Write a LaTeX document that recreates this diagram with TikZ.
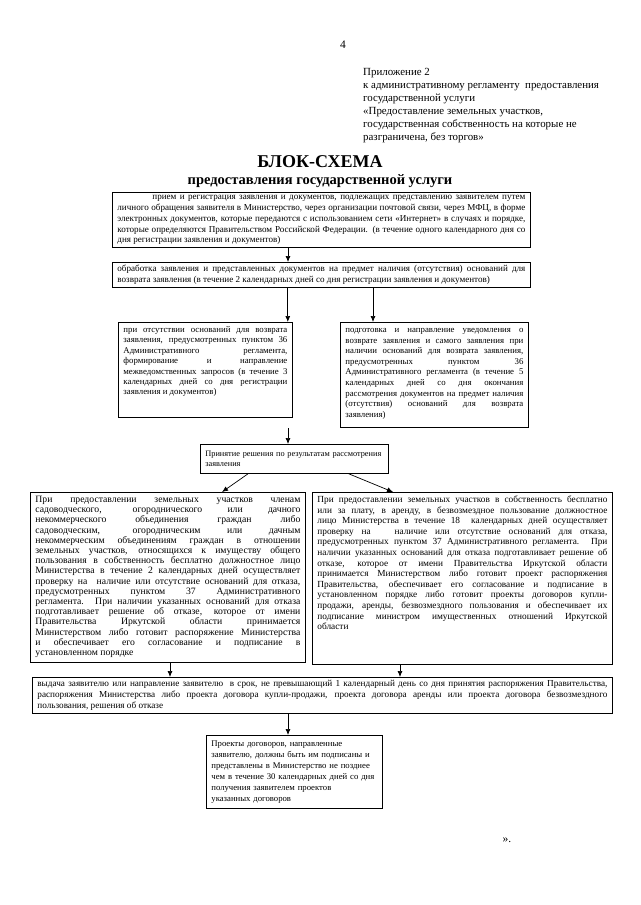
\documentclass[tikz,border=0pt]{standalone}
\usepackage{fontspec}
\setmainfont{Liberation Serif}
\usetikzlibrary{positioning,arrows.meta}
\hbadness=10000
\vbadness=10000

\begin{document}
\begin{tikzpicture}[x=1pt,y=-1pt,
  box/.style={draw,line width=0.8pt,anchor=north west,align=justify,inner xsep=5pt,inner ysep=3pt},
  fs/.style 2 args={font=\fontsize{#1}{#2}\selectfont},
  hang/.style={text height=7pt,text depth=#1},
  arr/.style={line width=0.7pt,-{Latex[length=6pt,width=5pt]}}]
\useasboundingbox (0,0) rectangle (640,905);
\node[fs={11.5}{13}] (nomer) at (343,45) {4};
\node[fs={10.9}{13},align=left,anchor=north west,inner sep=0pt] (prilozh) at (363,68)
  {Приложение 2\\к административному регламенту\ \ предоставления\\государственной услуги\\
   «Предоставление земельных участков,\\государственная собственность на которые не\\разграничена, без торгов»};
\node[font=\bfseries\fontsize{18}{19}\selectfont] (zagl) at (320,162) {БЛОК-СХЕМА};
\node[font=\bfseries\fontsize{14.5}{16}\selectfont,below=-1pt of zagl] (podzagl) {предоставления государственной услуги};

\node[box,fs={9.1}{10.8},text width=408pt] (priem) at (112,192)
  {\hspace*{35pt}прием и регистрация заявления и документов, подлежащих представлению заявителем путем\linebreak
   личного обращения заявителя в Министерство, через организации почтовой связи, через МФЦ, в форме\linebreak
   электронных документов, которые передаются с использованием сети «Интернет» в случаях и порядке,\linebreak
   которые определяются Правительством Российской Федерации. (в течение одного календарного дня со\linebreak
   дня регистрации заявления и документов)};
\node[box,fs={9.1}{10.8},text width=408pt] (obrab) at (112,262)
  {обработка заявления и представленных документов на предмет наличия (отсутствия) оснований для\linebreak
   возврата заявления (в течение 2 календарных дней со дня регистрации заявления и документов)};
\node[box,fs={8.8}{10.4},text width=164pt,hang=82pt] (otsut) at (118,322)
  {при отсутствии оснований для возврата\linebreak
   заявления, предусмотренных пунктом 36\linebreak
   Административного регламента,\linebreak
   формирование и направление\linebreak
   межведомственных запросов (в течение 3\linebreak
   календарных дней со дня регистрации\linebreak
   заявления и документов)};
\node[box,fs={8.8}{10.6},text width=178pt,hang=92pt] (vozvr) at (340,322)
  {подготовка и направление уведомления о\linebreak
   возврате заявления и самого заявления при\linebreak
   наличии оснований для возврата заявления,\linebreak
   предусмотренных пунктом 36\linebreak
   Административного регламента (в течение 5\linebreak
   календарных дней со дня окончания\linebreak
   рассмотрения документов на предмет наличия\linebreak
   (отсутствия) оснований для возврата\linebreak
   заявления)};
\node[box,fs={8.3}{10.5},align=left,text width=178pt,minimum height=29pt] (reshen) at (200,444)
  {Принятие решения по результатам рассмотрения\\заявления};
\node[box,fs={9.7}{10.2},text width=265pt,hang=157pt] (chleny) at (30,492)
  {При предоставлении земельных участков членам\linebreak
   садоводческого, огороднического или дачного\linebreak
   некоммерческого объединения граждан либо\linebreak
   садоводческим, огородническим или дачным\linebreak
   некоммерческим объединениям граждан в отношении\linebreak
   земельных участков, относящихся к имуществу общего\linebreak
   пользования в собственность бесплатно должностное лицо\linebreak
   Министерства в течение 2 календарных дней осуществляет\linebreak
   проверку на\ \ наличие или отсутствие оснований для отказа,\linebreak
   предусмотренных пунктом 37 Административного\linebreak
   регламента. При наличии указанных оснований для отказа\linebreak
   подготавливает решение об отказе, которое от имени\linebreak
   Правительства Иркутской области принимается\linebreak
   Министерством либо готовит распоряжение Министерства\linebreak
   и обеспечивает его согласование и подписание в\linebreak
   установленном порядке};
\node[box,fs={9.3}{10.6},text width=290pt,hang=159pt] (sobstv) at (312,492)
  {При предоставлении земельных участков в собственность бесплатно\linebreak
   или за плату, в аренду, в безвозмездное пользование должностное\linebreak
   лицо Министерства в течение 18\ \ календарных дней осуществляет\linebreak
   проверку на\ \ \ наличие или отсутствие оснований для отказа,\linebreak
   предусмотренных пунктом 37 Административного регламента. При\linebreak
   наличии указанных оснований для отказа подготавливает решение об\linebreak
   отказе, которое от имени Правительства Иркутской области\linebreak
   принимается Министерством либо готовит проект распоряжения\linebreak
   Правительства, обеспечивает его согласование и подписание в\linebreak
   установленном порядке либо готовит проекты договоров купли-\linebreak
   продажи, аренды, безвозмездного пользования и обеспечивает их\linebreak
   подписание министром имущественных отношений Иркутской\linebreak
   области};
\node[box,fs={9.2}{11},text width=570pt] (vydacha) at (32,677)
  {выдача заявителю или направление заявителю\ \ в срок, не превышающий 1 календарный день со дня принятия распоряжения Правительства,\linebreak
   распоряжения Министерства либо проекта договора купли-продажи, проекта договора аренды или проекта договора безвозмездного\linebreak
   пользования, решения об отказе};
\node[box,fs={8.7}{11},align=left,text width=166pt,minimum height=73pt] (proekty) at (206,735)
  {Проекты договоров, направленные\\заявителю, должны быть им подписаны и\\представлены в Министерство не позднее\\
   чем в течение 30 календарных дней со дня\\получения заявителем проектов\\указанных договоров};
\node[fs={11.5}{13}] (konec) at (507,840) {».};

\coordinate (os) at (288,0);
\coordinate (k1) at ([xshift=-5pt]otsut.north east);
\coordinate (k2) at ([xshift=33pt]vozvr.north west);
\coordinate (k3) at (288,428);
\draw[arr] (priem.south -| os) -- (obrab.north -| os);
\draw[arr] (k1 |- obrab.south) -- (k1);
\draw[arr] (k2 |- obrab.south) -- (k2);
\draw[arr] (k3) -- (k3 |- reshen.north);
\draw[arr] ([xshift=48pt]reshen.south west) -- ([xshift=192pt]chleny.north west);
\draw[arr] ([xshift=-40pt]reshen.south east) -- ([xshift=81pt]sobstv.north west);
\draw[arr] ([xshift=140pt]chleny.south west) -- ([xshift=138pt]vydacha.north west);
\draw[arr] ([xshift=88pt]sobstv.south west) -- ([xshift=368pt]vydacha.north west);
\draw[arr] (vydacha.south -| os) -- (proekty.north -| os);
\end{tikzpicture}
\end{document}
